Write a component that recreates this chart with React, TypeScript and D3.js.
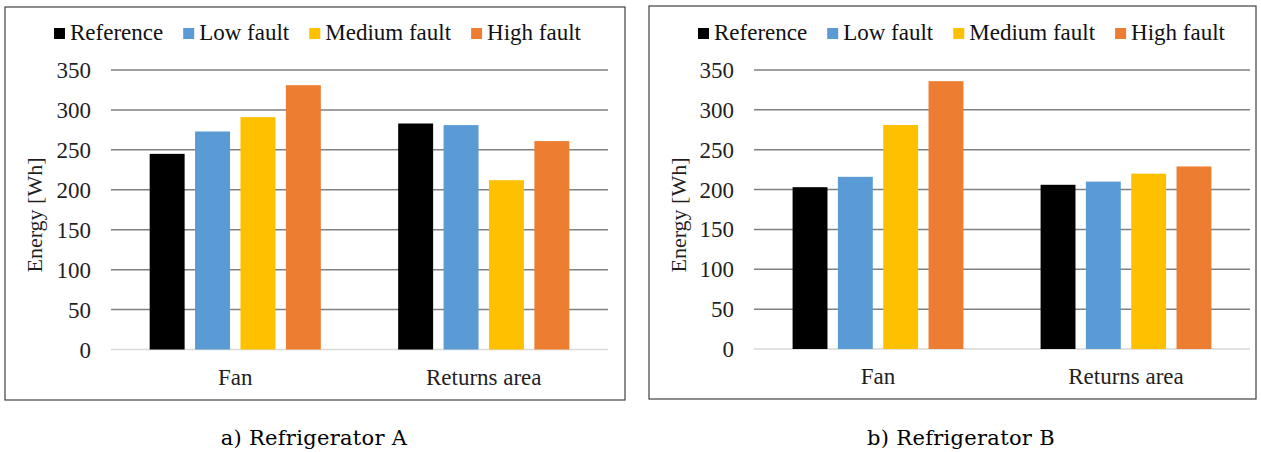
import React, { useEffect, useRef } from "react";
import * as d3 from "d3";

// Categories, series and readings (energy in Wh)
const categories = ["Fan", "Returns area"];
const seriesNames = ["Reference", "Low fault", "Medium fault", "High fault"];
const seriesColors = ["#000000", "#5B9BD5", "#FFC000", "#ED7D31"];

const fridgeAReference = [245, 283];
const fridgeALow = [273, 281];
const fridgeAMedium = [291, 212];
const fridgeAHigh = [331, 261];

const fridgeBReference = [203, 206];
const fridgeBLow = [216, 210];
const fridgeBMedium = [281, 220];
const fridgeBHigh = [336, 229];

const yTicks = [0, 50, 100, 150, 200, 250, 300, 350];
const yAxisTitle = "Energy [Wh]";
const captions = ["a) Refrigerator A", "b) Refrigerator B"];

const W = 1261;
const H = 452;
const SERIF = "'Liberation Serif', 'Times New Roman', serif";
const FONT_SIZE = 23;

interface PanelLayout {
  frame: { x0: number; y0: number; x1: number; y1: number };
  plot: { left: number; right: number; top: number; bottom: number };
  captionX: number;
}

const layouts: PanelLayout[] = [
  {
    frame: { x0: 5, y0: 7, x1: 625, y1: 400 },
    plot: { left: 111, right: 608, top: 70, bottom: 349.5 },
    captionX: 314,
  },
  {
    frame: { x0: 649, y0: 6, x1: 1256, y1: 399 },
    plot: { left: 754, right: 1250, top: 70, bottom: 349 },
    captionX: 961,
  },
];

const panelSeries = [
  [fridgeAReference, fridgeALow, fridgeAMedium, fridgeAHigh],
  [fridgeBReference, fridgeBLow, fridgeBMedium, fridgeBHigh],
];

function drawPanel(
  svg: d3.Selection<SVGSVGElement, unknown, null, undefined>,
  layout: PanelLayout,
  series: number[][],
  caption: string
) {
  const { frame, plot } = layout;
  const g = svg.append("g");

  // chart frame
  g.append("rect")
    .attr("x", frame.x0)
    .attr("y", frame.y0)
    .attr("width", frame.x1 - frame.x0)
    .attr("height", frame.y1 - frame.y0)
    .attr("fill", "#ffffff")
    .attr("stroke", "#404040")
    .attr("stroke-width", 1.2);

  const y = d3.scaleLinear().domain([0, 350]).range([plot.bottom, plot.top]);
  const x0 = d3
    .scaleBand<string>()
    .domain(categories)
    .range([plot.left, plot.right])
    .padding(0);
  const groupPad = x0.bandwidth() * 0.1556;
  const x1 = d3
    .scaleBand<string>()
    .domain(seriesNames)
    .range([groupPad, x0.bandwidth() - groupPad])
    .paddingInner(0.23)
    .paddingOuter(0);

  // horizontal gridlines
  g.append("g")
    .selectAll("line")
    .data(yTicks)
    .join("line")
    .attr("x1", plot.left)
    .attr("x2", plot.right)
    .attr("y1", (d) => y(d))
    .attr("y2", (d) => y(d))
    .attr("stroke", (d) => (d === 0 ? "#d9d9d9" : "#808080"))
    .attr("stroke-width", 1.5);

  // y tick labels
  g.append("g")
    .selectAll("text")
    .data(yTicks)
    .join("text")
    .attr("x", plot.left - 20)
    .attr("y", (d) => y(d))
    .attr("dy", "0.35em")
    .attr("text-anchor", "end")
    .attr("font-family", SERIF)
    .attr("font-size", FONT_SIZE)
    .attr("fill", "#1f1f1f")
    .text((d) => String(d));

  // bars
  const groups = g
    .append("g")
    .selectAll("g")
    .data(categories)
    .join("g")
    .attr("transform", (c) => `translate(${x0(c)},0)`);

  groups
    .selectAll("rect")
    .data((c) =>
      seriesNames.map((name, si) => ({ name, si, value: series[si][categories.indexOf(c)] }))
    )
    .join("rect")
    .attr("x", (d) => x1(d.name)!)
    .attr("width", x1.bandwidth())
    .attr("y", (d) => y(d.value))
    .attr("height", (d) => y(0) - y(d.value))
    .attr("fill", (d) => seriesColors[d.si]);

  // category labels
  g.append("g")
    .selectAll("text")
    .data(categories)
    .join("text")
    .attr("x", (c) => x0(c)! + x0.bandwidth() / 2)
    .attr("y", frame.y1 - 15)
    .attr("text-anchor", "middle")
    .attr("font-family", SERIF)
    .attr("font-size", FONT_SIZE)
    .attr("fill", "#1f1f1f")
    .text((c) => c);

  // y axis title
  g.append("text")
    .attr("transform", `translate(${frame.x0 + 37},215) rotate(-90)`)
    .attr("text-anchor", "middle")
    .attr("font-family", SERIF)
    .attr("font-size", 22)
    .attr("fill", "#1f1f1f")
    .text(yAxisTitle);

  // legend
  const legend = g.append("g");
  let lx = frame.x0 + 49;
  seriesNames.forEach((name, i) => {
    legend
      .append("rect")
      .attr("x", lx)
      .attr("y", 28)
      .attr("width", 11)
      .attr("height", 11)
      .attr("fill", seriesColors[i]);
    const t = legend
      .append("text")
      .attr("x", lx + 16)
      .attr("y", 40)
      .attr("font-family", SERIF)
      .attr("font-size", FONT_SIZE)
      .attr("fill", "#111111")
      .text(name);
    const w = (t.node() as SVGTextElement).getComputedTextLength();
    lx += 16 + w + 20;
  });

  // caption under the frame
  svg
    .append("text")
    .attr("x", layout.captionX)
    .attr("y", 445)
    .attr("text-anchor", "middle")
    .attr("font-family", "'DejaVu Serif', serif")
    .attr("font-size", 21)
    .attr("letter-spacing", 0.3)
    .attr("fill", "#000000")
    .text(caption);
}

export default function App() {
  const ref = useRef<SVGSVGElement | null>(null);

  useEffect(() => {
    if (!ref.current) return;
    const svg = d3.select(ref.current);
    svg.selectAll("*").remove();
    svg.append("rect").attr("width", W).attr("height", H).attr("fill", "#ffffff");
    layouts.forEach((layout, i) => drawPanel(svg, layout, panelSeries[i], captions[i]));
  }, []);

  return (
    <svg
      ref={ref}
      width={W}
      height={H}
      style={{ position: "absolute", left: 0, top: 0, display: "block" }}
    />
  );
}
